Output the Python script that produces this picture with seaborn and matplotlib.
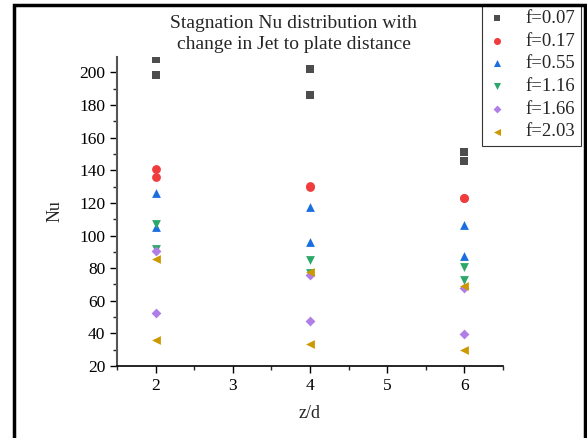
import matplotlib
matplotlib.use("Agg")
import matplotlib.pyplot as plt
import seaborn as sns
import pandas as pd
from matplotlib.patches import Rectangle
from matplotlib.ticker import MultipleLocator

sns.set_style("ticks")
plt.rcParams['font.family'] = ['Liberation Serif', 'DejaVu Serif']

z_d = [2, 2, 4, 4, 6, 6]
f_labels = ["f=0.07", "f=0.17", "f=0.55", "f=1.16", "f=1.66", "f=2.03"]
nu_f007 = [208.2, 198.4, 202.1, 186.1, 151.1, 145.6]
nu_f017 = [140.9, 136.0, 130.5, 130.0, 123.0, 123.0]
nu_f055 = [126.4, 105.5, 117.4, 95.9, 106.5, 87.3]
nu_f116 = [107.1, 91.6, 85.1, 77.0, 80.5, 73.0]
nu_f166 = [90.6, 52.3, 75.9, 47.9, 68.1, 39.9]
nu_f203 = [85.7, 36.0, 77.6, 33.6, 69.1, 30.0]

series = [nu_f007, nu_f017, nu_f055, nu_f116, nu_f166, nu_f203]
rows = []
for lab, vals in zip(f_labels, series):
    for x, v in zip(z_d, vals):
        rows.append({"z/d": x, "Nu": v, "f": lab})
df = pd.DataFrame(rows)

colors = ["#4d4d4d", "#f03c3c", "#1a6ee0", "#2ca86a", "#b07ee6", "#cc9900"]
markers = ["s", "o", "^", "v", "D", "<"]

fig = plt.figure(figsize=(5.87, 4.38), dpi=100)
ax = fig.add_axes([117/587, 1-366/438, (503-117)/587, (366-57)/438])

sizes = {"s": 30, "o": 40, "^": 40, "v": 40, "D": 25, "<": 40}
for lab, mk, col in zip(f_labels, markers, colors):
    sub = df[df["f"] == lab]
    sns.scatterplot(data=sub, x="z/d", y="Nu", marker=mk, color=col,
                    s=sizes[mk], linewidth=0, ax=ax, label=lab, legend=True)

ax.set_xlim(1.5, 6.5)
ax.set_ylim(20, 209.5)
ax.xaxis.set_major_locator(MultipleLocator(1))
ax.xaxis.set_minor_locator(MultipleLocator(0.5))
ax.yaxis.set_major_locator(MultipleLocator(20))
ax.yaxis.set_minor_locator(MultipleLocator(10))
ax.tick_params(axis="both", which="major", length=5, width=1, labelsize=12.5, direction="out", colors="black")
ax.tick_params(axis="both", which="minor", length=3, width=1, direction="out")
for s in ["top", "right"]:
    ax.spines[s].set_visible(False)
ax.spines["left"].set_color("#555555")
ax.spines["left"].set_linewidth(1.5)
ax.spines["bottom"].set_color("black")
ax.spines["bottom"].set_linewidth(1.2)
ax.set_xlabel("")
ax.set_ylabel("")

fig.text(55/587, 1-211/438, "Nu", rotation=90, ha="center", va="center", fontsize=13)
fig.text(310/587, 1-414/438, "z/d", ha="center", va="center", fontsize=13)
fig.text(294/587, 1-34/438, "Stagnation Nu distribution with\nchange in Jet to plate distance",
         ha="center", va="center", fontsize=14, linespacing=1.3)

handles, labels = ax.get_legend_handles_labels()
if ax.legend_:
    ax.legend_.remove()
leg = fig.legend(handles, labels, loc="upper left", bbox_to_anchor=(482/587, 1-4/438),
                 frameon=True, fancybox=False, edgecolor="black", fontsize=13.5,
                 handletextpad=1.0, labelspacing=0.3, borderpad=0.3, handlelength=1.0,
                 borderaxespad=0, markerscale=0.8)
leg.get_frame().set_linewidth(0.8)

fig.patches.append(Rectangle((14/587, -0.05), (585-14)/587, 1.05-5/438, transform=fig.transFigure,
                             fill=False, edgecolor="black", linewidth=2.5, zorder=10))

fig.savefig("out.png", dpi=100)
